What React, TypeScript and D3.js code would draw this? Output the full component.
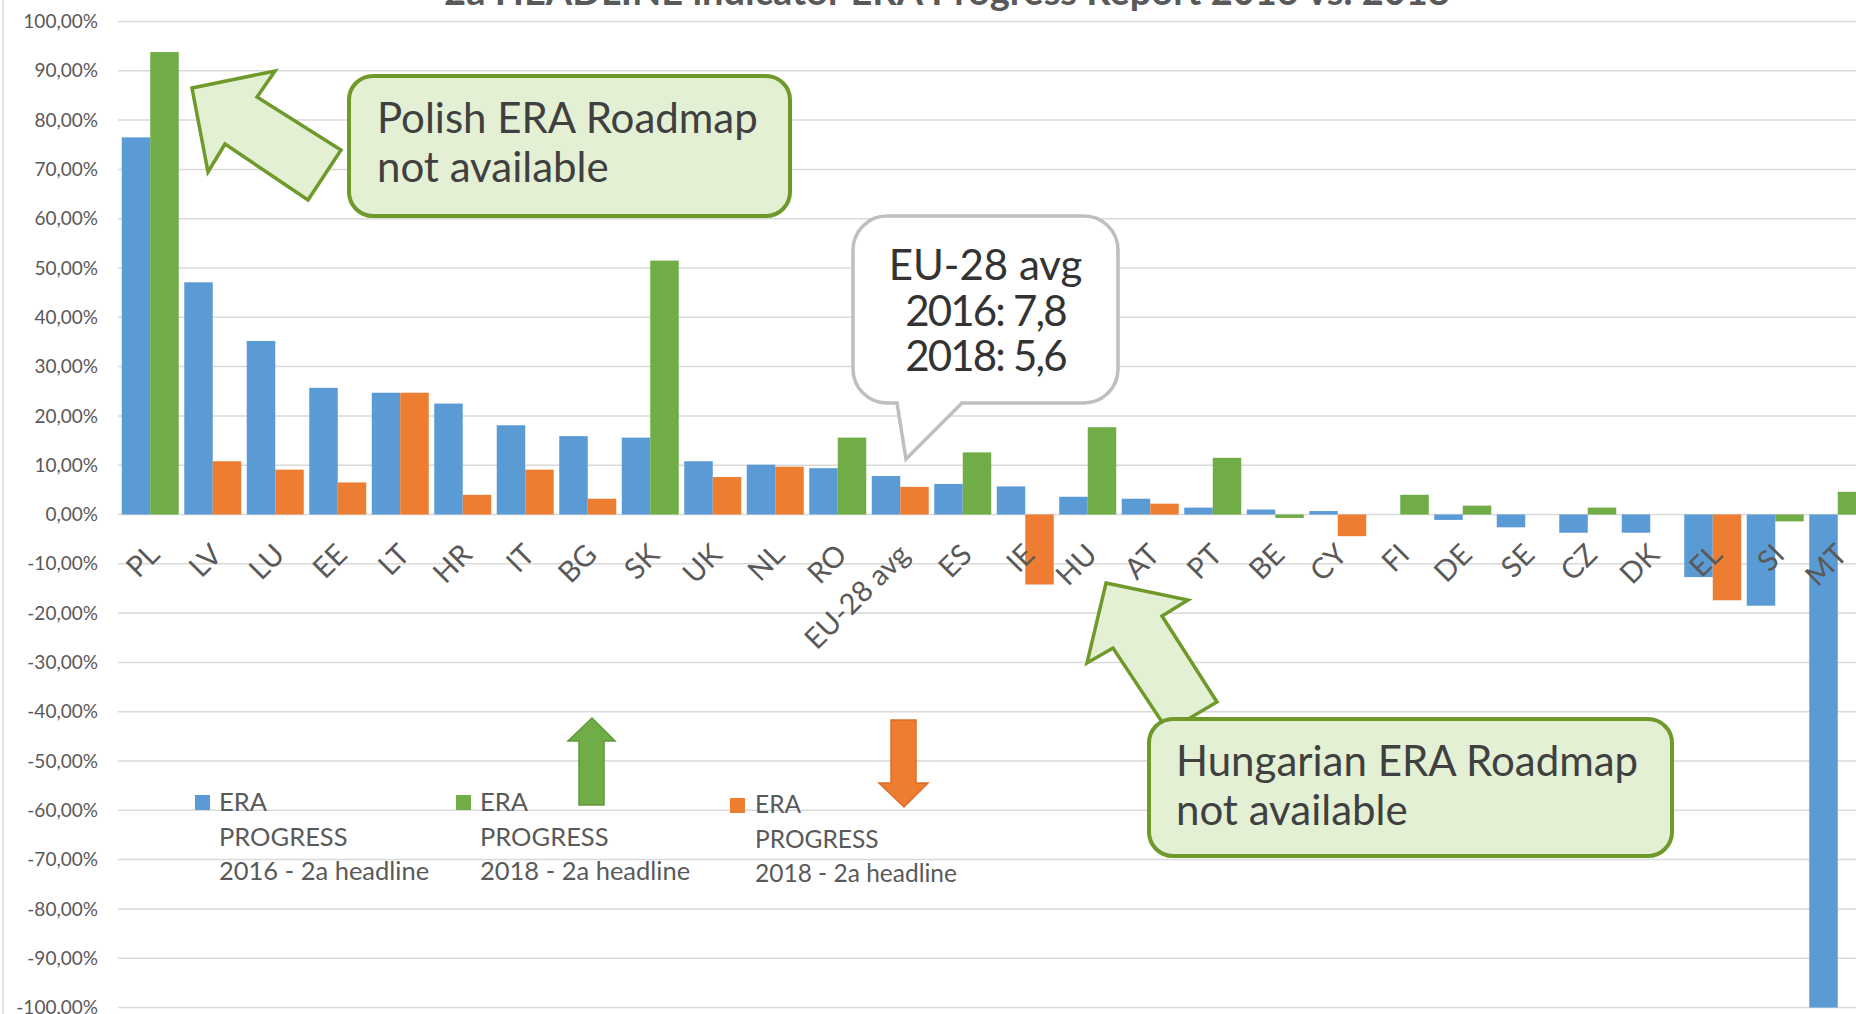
import React, { useEffect, useRef } from "react";
import * as d3 from "d3";

const categories = [
	"PL", "LV", "LU", "EE", "LT", "HR", "IT", "BG", "SK", "UK", "NL", "RO", "EU-28 avg", "ES",
	"IE", "HU", "AT", "PT", "BE", "CY", "FI", "DE", "SE", "CZ", "DK", "EL", "SI", "MT",
];

// ERA progress 2016 (blue)
const progress2016: (number | null)[] = [
	76.5, 47.1, 35.2, 25.7, 24.7, 22.5, 18.1, 15.9, 15.6, 10.8, 10.1, 9.4, 7.8, 6.2,
	5.7, 3.6, 3.2, 1.4, 1.0, 0.7, null, -1.1, -2.6, -3.7, -3.7, -12.7, -18.5, -100,
];

// ERA progress 2018, improved (green)
const progress2018Up: (number | null)[] = [
	93.8, null, null, null, null, null, null, null, 51.5, null, null, 15.6, null, 12.6,
	null, 17.7, null, 11.5, -0.7, null, 4.0, 1.8, null, 1.4, null, null, -1.4, 4.6,
];

// ERA progress 2018, worsened (orange)
const progress2018Down: (number | null)[] = [
	null, 10.8, 9.1, 6.5, 24.7, 4.0, 9.1, 3.2, null, 7.6, 9.7, null, 5.6, null,
	-14.2, null, 2.2, null, null, -4.4, null, null, null, null, null, -17.4, null, null,
];

const yTicks = d3.range(-100, 101, 10);

const legendItems = [
	{ label: ["ERA", "PROGRESS", "2016 - 2a headline"], color: "#5B9BD5" },
	{ label: ["ERA", "PROGRESS", "2018 - 2a headline"], color: "#70AD47" },
	{ label: ["ERA", "PROGRESS", "2018 - 2a headline"], color: "#ED7D31" },
];

const FONT = "Lato, 'Open Sans', sans-serif";

const App: React.FC = () => {
	const ref = useRef<SVGSVGElement | null>(null);

	useEffect(() => {
		if (!ref.current) return;
		const width = 1856;
		const height = 1014;
		const svg = d3.select(ref.current);

		const y = d3.scaleLinear().domain([-100, 100]).range([1007.5, 21.5]);
		const x = d3
			.scaleBand()
			.domain(categories)
			.range([119, 1869])
			.paddingInner(0.088)
			.paddingOuter(0.044);
		const sub = d3
			.scaleBand()
			.domain(["2016", "2018"])
			.range([0, x.bandwidth()]);

		const locale = d3.formatLocale({
			decimal: ",",
			thousands: ".",
			grouping: [3],
			currency: ["", "€"],
			minus: "-",
		});
		const fmt = locale.format(".2f");

		// left border
		svg.append("line")
			.attr("x1", 3).attr("x2", 3)
			.attr("y1", 0).attr("y2", height)
			.attr("stroke", "#d9d9d9").attr("stroke-width", 1.5);

		// title (cut at top)
		svg.append("text")
			.attr("x", 947)
			.attr("y", 5)
			.attr("text-anchor", "middle")
			.attr("font-family", FONT)
			.attr("font-weight", "bold")
			.attr("font-size", 38)
			.attr("fill", "#595959")
			.text("2a HEADLINE indicator ERA Progress Report 2016 vs. 2018");

		// gridlines
		svg.append("g")
			.selectAll("line")
			.data(yTicks)
			.enter()
			.append("line")
			.attr("x1", 118)
			.attr("x2", width)
			.attr("y1", (d) => y(d))
			.attr("y2", (d) => y(d))
			.attr("stroke", "#d9d9d9")
			.attr("stroke-width", 1.5);

		// y labels
		svg.append("g")
			.selectAll("text")
			.data(yTicks)
			.enter()
			.append("text")
			.attr("x", 98)
			.attr("y", (d) => y(d))
			.attr("dy", "0.35em")
			.attr("text-anchor", "end")
			.attr("font-family", FONT)
			.attr("font-size", 19)
			.attr("fill", "#595959")
			.text((d) => fmt(d) + "%");

		const series = [
			{ key: "2016", values: progress2016, color: "#5B9BD5" },
			{ key: "2018", values: progress2018Up, color: "#70AD47" },
			{ key: "2018", values: progress2018Down, color: "#ED7D31" },
		];

		series.forEach((s) => {
			const data = categories
				.map((c, i) => ({ c, v: s.values[i] }))
				.filter((d) => d.v !== null) as { c: string; v: number }[];
			svg.append("g")
				.selectAll("rect")
				.data(data)
				.enter()
				.append("rect")
				.attr("x", (d) => (x(d.c) || 0) + (sub(s.key) || 0))
				.attr("y", (d) => y(Math.max(0, d.v)))
				.attr("width", sub.bandwidth())
				.attr("height", (d) => Math.abs(y(d.v) - y(0)))
				.attr("fill", s.color);
		});

		// x labels, rotated
		svg.append("g")
			.selectAll("text")
			.data(categories)
			.enter()
			.append("text")
			.attr("transform", (d) => {
				const cx = (x(d) || 0) + x.bandwidth() / 2 + 11;
				return `translate(${cx},${y(0) + 42}) rotate(-45)`;
			})
			.attr("text-anchor", "end")
			.attr("font-family", FONT)
			.attr("font-size", 29)
			.attr("fill", "#595959")
			.text((d) => d);

		// legend
		const legendPos = [
			{ sx: 195, sy: 795, tx: 219, ty: 811, fs: 25.5 },
			{ sx: 456, sy: 795, tx: 480, ty: 811, fs: 25.5 },
			{ sx: 730, sy: 798, tx: 755, ty: 813, fs: 24.5 },
		];
		legendItems.forEach((item, i) => {
			const p = legendPos[i];
			svg.append("rect")
				.attr("x", p.sx).attr("y", p.sy)
				.attr("width", 15).attr("height", 15)
				.attr("fill", item.color);
			item.label.forEach((line, j) => {
				svg.append("text")
					.attr("x", p.tx)
					.attr("y", p.ty + j * 34.5)
					.attr("font-family", FONT)
					.attr("font-size", p.fs)
					.attr("fill", "#595959")
					.text(line);
			});
		});

		// up / down arrows next to legend
		svg.append("polygon")
			.attr("points", "592,718 568,741 579,741 579,805 604,805 604,741 615,741")
			.attr("fill", "#70AD47")
			.attr("stroke", "#5e9a3a")
			.attr("stroke-width", 1.5);
		svg.append("polygon")
			.attr("points", "891,720 916,720 916,783 928,783 904,807 879,783 891,783")
			.attr("fill", "#ED7D31")
			.attr("stroke", "#d86f28")
			.attr("stroke-width", 1.5);

		const calloutFill = "#e4f0d4";
		const calloutStroke = "#6f9a2b";

		// Polish callout
		svg.append("polygon")
			.attr("points", "192,88 275,71 257,97 341,150 308,200 225,144 208,172")
			.attr("fill", calloutFill)
			.attr("stroke", calloutStroke)
			.attr("stroke-width", 3.5)
			.attr("stroke-linejoin", "miter");
		svg.append("rect")
			.attr("x", 349).attr("y", 76)
			.attr("width", 441).attr("height", 140)
			.attr("rx", 24)
			.attr("fill", calloutFill)
			.attr("stroke", calloutStroke)
			.attr("stroke-width", 4);
		["Polish ERA Roadmap", "not available"].forEach((t, i) => {
			svg.append("text")
				.attr("x", 377)
				.attr("y", 133 + i * 48.5)
				.attr("font-family", FONT)
				.attr("font-size", 42)
				.attr("fill", "#404040")
				.text(t);
		});

		// Hungarian callout
		svg.append("polygon")
			.attr("points", "1106,583 1188,600 1162,616 1217,702 1168,731 1113,648 1087,663")
			.attr("fill", calloutFill)
			.attr("stroke", calloutStroke)
			.attr("stroke-width", 3.5);
		svg.append("rect")
			.attr("x", 1149).attr("y", 719)
			.attr("width", 523).attr("height", 137)
			.attr("rx", 24)
			.attr("fill", calloutFill)
			.attr("stroke", calloutStroke)
			.attr("stroke-width", 4);
		["Hungarian ERA Roadmap", "not available"].forEach((t, i) => {
			svg.append("text")
				.attr("x", 1176)
				.attr("y", 776 + i * 49)
				.attr("font-family", FONT)
				.attr("font-size", 42)
				.attr("fill", "#404040")
				.text(t);
		});

		// EU-28 speech bubble
		const r = 34;
		const bx0 = 853, bx1 = 1118, by0 = 216, by1 = 403;
		const bubble = d3.path();
		bubble.moveTo(bx0 + r, by0);
		bubble.lineTo(bx1 - r, by0);
		bubble.arcTo(bx1, by0, bx1, by0 + r, r);
		bubble.lineTo(bx1, by1 - r);
		bubble.arcTo(bx1, by1, bx1 - r, by1, r);
		bubble.lineTo(962, by1);
		bubble.lineTo(906, 459);
		bubble.lineTo(897, by1);
		bubble.lineTo(bx0 + r, by1);
		bubble.arcTo(bx0, by1, bx0, by1 - r, r);
		bubble.lineTo(bx0, by0 + r);
		bubble.arcTo(bx0, by0, bx0 + r, by0, r);
		bubble.closePath();
		svg.append("path")
			.attr("d", bubble.toString())
			.attr("fill", "#ffffff")
			.attr("stroke", "#bfbfbf")
			.attr("stroke-width", 3.5);
		["EU-28 avg", "2016: 7,8", "2018: 5,6"].forEach((t, i) => {
			svg.append("text")
				.attr("x", 985.5)
				.attr("y", 280 + i * 45.5)
				.attr("text-anchor", "middle")
				.attr("font-family", FONT)
				.attr("font-size", 42)
				.attr("letter-spacing", i === 0 ? 0 : -1.8)
				.attr("fill", "#333333")
				.text(t);
		});

		return () => {
			svg.selectAll("*").remove();
		};
	}, []);

	return (
		<svg
			ref={ref}
			width={1856}
			height={1014}
			style={{ position: "absolute", left: 0, top: 0, background: "#ffffff" }}
		/>
	);
};

export default App;
